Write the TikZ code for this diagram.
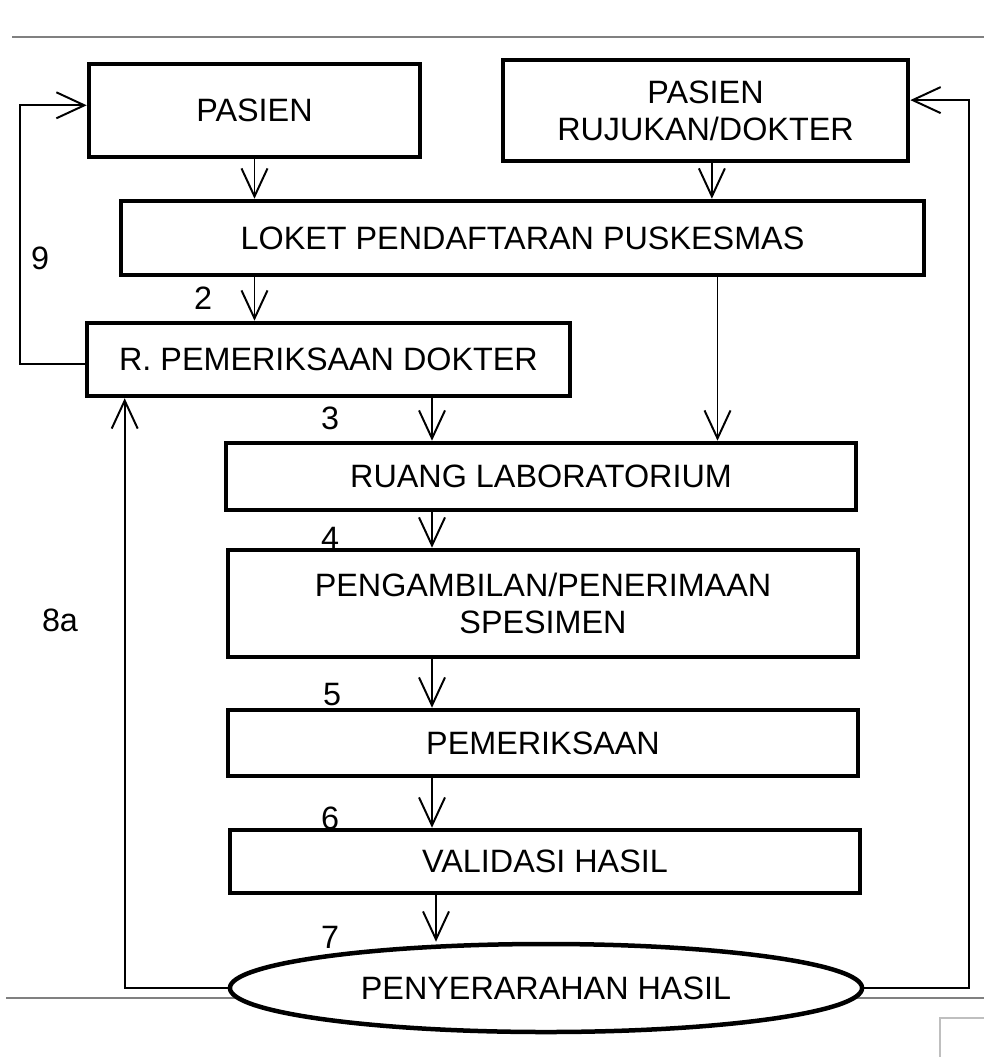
\documentclass[tikz,border=0pt]{standalone}
\usepackage{fontspec}
\setmainfont{Liberation Sans}
\usepackage{tikz}
\usetikzlibrary{arrows.meta,shapes.geometric}

\begin{document}
\begin{tikzpicture}[x=0.025cm,y=-0.025cm]
\tikzstyle{every node}=[font=\fontsize{23}{26.3}\selectfont];
\tikzstyle{box}=[draw,line width=3.2pt,fill=white,inner sep=0pt,align=center];
\tikzstyle{flow}=[line width=1.4pt,-{Straight Barb[length=0.7cm,width=0.65cm,line width=1.4pt]}];
\tikzstyle{sheet}=[line width=1.4pt,gray];
\useasboundingbox (0,0) rectangle (984,1057);
% page edges
\draw[sheet] (12,37) -- (984,37);
\draw[sheet] (6,998) -- (984,998);
\draw[line width=1pt,gray!50] (940,1057) -- (940,1018) -- (984,1018);
% boxes
\node[box,minimum width=8.275cm,minimum height=2.325cm] (pasien) at (254.5,110.5) {PASIEN};
\node[box,minimum width=10.125cm,minimum height=2.525cm] (rujukan) at (705.5,110.5) {PASIEN\\RUJUKAN/DOKTER};
\node[box,minimum width=20.075cm,minimum height=1.85cm] (loket) at (522.5,238) {LOKET PENDAFTARAN PUSKESMAS};
\node[box,minimum width=12.075cm,minimum height=1.825cm] (dokter) at (328.5,359.5) {R. PEMERIKSAAN DOKTER};
\node[box,minimum width=15.75cm,minimum height=1.675cm] (lab) at (541,476.5) {RUANG LABORATORIUM};
\node[box,minimum width=15.75cm,minimum height=2.675cm] (ambil) at (543,603.5) {PENGAMBILAN/PENERIMAAN\\SPESIMEN};
\node[box,minimum width=15.75cm,minimum height=1.65cm] (periksa) at (543,743) {PEMERIKSAAN};
\node[box,minimum width=15.75cm,minimum height=1.575cm] (validasi) at (545,861.5) {VALIDASI HASIL};
\node[box,ellipse,minimum width=15.8cm,minimum height=2.2cm] (serah) at (546,988) {PENYERARAHAN HASIL};
% step numbers
\node (n9) at (40,258) {9};
\node (n2) at (203,298) {2};
\node (n3) at (330,418) {3};
\node (n4) at (330,538) {4};
\node (n5) at (332,695) {5};
\node (n6) at (330,818) {6};
\node (n7) at (330,937) {7};
\node (n8a) at (60,620) {8a};
% flow
\coordinate (col) at (432,0);
\coordinate (col2) at (436,0);
\draw[flow] (pasien.south) -- (pasien.south |- loket.north);
\draw[flow] ([xshift=0.16cm]rujukan.south) -- ([xshift=0.16cm]rujukan.south |- loket.north);
\draw[flow] (pasien.south |- loket.south) -- (pasien.south |- dokter.north);
\draw[flow] ([xshift=0.3cm]rujukan.south |- loket.south) -- ([xshift=0.3cm]rujukan.south |- lab.north);
\draw[flow] (dokter.south -| col) -- (lab.north -| col);
\draw[flow] (lab.south -| col) -- (ambil.north -| col);
\draw[flow] (ambil.south -| col) -- (periksa.north -| col);
\draw[flow] (periksa.south -| col) -- (validasi.north -| col);
\draw[flow] (validasi.south -| col2) -- (serah.north -| col2);
% return lines
\draw[flow] ([yshift=-0.12cm]dokter.west) -- ++(-65,0) |- ([yshift=0.13cm]pasien.west);
\draw[flow] (serah.west) -| ([xshift=1cm]dokter.south west);
\draw[flow] (serah.east) -- ++(105,0) |- ([yshift=0.26cm]rujukan.east);
\end{tikzpicture}
\end{document}
